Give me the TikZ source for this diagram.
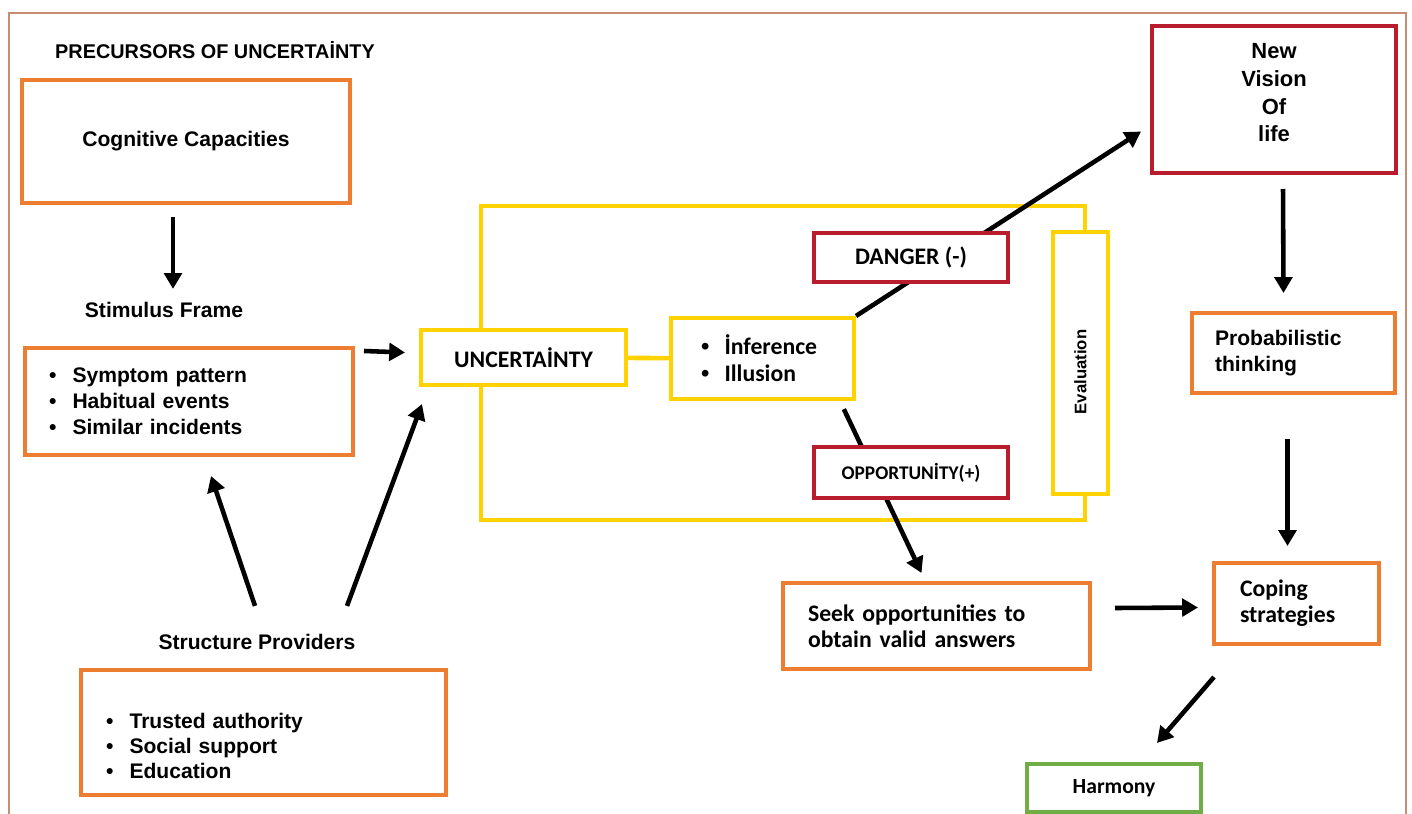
\documentclass[tikz,border=0pt]{standalone}
\usepackage{fontspec}
\usepackage{graphicx}
\setmainfont{Liberation Sans}
\newfontfamily\narrowfont{Carlito}
\usetikzlibrary{arrows.meta}
\usetikzlibrary{backgrounds}
\definecolor{box_orange}{RGB}{237, 125, 49}
\definecolor{box_yellow}{RGB}{255, 210, 0}
\definecolor{box_red}{RGB}{185, 28, 45}
\definecolor{box_green}{RGB}{112, 173, 71}
\definecolor{frame_brown}{RGB}{200, 140, 115}
\newcommand{\bul}[1]{\makebox[0.47cm][l]{\rmfamily\textbullet}#1}
\tikzset{
  plain_box/.style={draw, line width=2.3pt, fill=white, text=black, inner sep=0pt, align=center},
  orange_box/.style={plain_box, draw=box_orange},
  yellow_box/.style={plain_box, draw=box_yellow},
  red_box/.style={plain_box, draw=box_red},
  green_box/.style={plain_box, draw=box_green},
  bold_txt/.style={font=\fontsize{12}{14.8}\selectfont\bfseries},
  narrow_txt/.style={font=\narrowfont\fontsize{13.5}{15}\selectfont\bfseries},
  arr/.style={line width=2.6pt, -{Triangle[length=9pt,width=10pt]}}
}

\begin{document}
\begin{tikzpicture}[x=0.02cm, y=-0.02cm]
\useasboundingbox (0,0) rectangle (1412,814);
\draw[frame_brown, line width=1pt] (9,814) -- (9,13) -- (1406,13) -- (1406,814);
\node[font=\fontsize{11.3}{13}\selectfont\bfseries] (title) at (215,50) {PRECURSORS OF UNCERTAİNTY};
\node[orange_box, bold_txt, minimum width=6.56cm, minimum height=2.46cm, text depth=0.12cm] (cog) at (186,141.5) {Cognitive Capacities};
\node[bold_txt, inner sep=0pt] (stimlbl) at (164,310) {Stimulus Frame};
\node[orange_box, bold_txt, minimum height=2.14cm, text width=5.6cm, inner xsep=0.48cm, align=left] (sympt) at (189,401.5) {\bul{Symptom pattern}\\ \bul{Habitual events}\\ \bul{Similar incidents}};
\node[bold_txt, inner sep=0pt] (strlbl) at (257,642) {Structure Providers};
\node[orange_box, font=\fontsize{12}{14.2}\selectfont\bfseries, minimum height=2.5cm, text width=6.3cm, inner xsep=0.5cm, align=left] (struct) at (263.5,732.5) {\strut\\ \bul{Trusted authority}\\ \bul{Social support}\\ \bul{Education}};
\node[yellow_box, narrow_txt, minimum width=4.1cm, minimum height=1.1cm] (unc) at (523.5,357.5) {UNCERTAİNTY};
\node[yellow_box, font=\narrowfont\fontsize{13.5}{15.4}\selectfont\bfseries, minimum height=1.62cm, text width=2.46cm, inner xsep=0.6cm, align=left] (inf) at (762.5,358.5) {\bul{İnference}\\ \bul{Illusion}};
\node[red_box, narrow_txt, minimum width=3.88cm, minimum height=0.98cm] (danger) at (911,257.5) {DANGER (-)};
\node[red_box, font=\narrowfont\fontsize{11}{13}\selectfont\bfseries, minimum width=3.88cm, minimum height=1.02cm] (opp) at (911,472.5) {OPPORTUNİTY(+)};
\node[yellow_box, font=\fontsize{9.5}{11}\selectfont\bfseries, minimum width=1.1cm, minimum height=5.24cm] (eval) at (1080.5,363) {\rotatebox{90}{Evaluation\hspace*{0.36cm}}};
\node[red_box, font=\fontsize{12.5}{15.9}\selectfont\bfseries, minimum width=4.88cm, minimum height=2.94cm, text depth=0.28cm] (vision) at (1274,99.5) {New\\Vision\\Of\\life};
\node[orange_box, bold_txt, minimum height=1.6cm, text width=3.14cm, inner xsep=0.46cm, align=left] (prob) at (1293.5,353) {Probabilistic\\thinking};
\node[orange_box, narrow_txt, minimum height=1.62cm, text width=2.26cm, inner xsep=0.52cm, align=left] (coping) at (1296.5,603.5) {Coping\\strategies};
\node[orange_box, narrow_txt, minimum height=1.72cm, text width=5.14cm, inner xsep=0.5cm, align=left] (seek) at (936.5,626) {Seek opportunities to\\obtain valid answers};
\node[green_box, font=\narrowfont\fontsize{12.3}{14}\selectfont\bfseries, minimum width=3.48cm, minimum height=0.96cm] (harmony) at (1114,788) {Harmony};
% lines running behind the boxes
\begin{scope}[on background layer]
\draw[box_yellow, line width=2.3pt] (481,206) rectangle (1085,520);
\draw[arr] (inf.north east) -- ([shift={(-9,32)}]vision.west);
\draw[arr, shorten <=0.18cm] ([shift={(-16,0)}]inf.south east) -- ([shift={(-15,-8)}]seek.north);
\end{scope}
\draw[box_yellow, line width=2.6pt] (unc) -- (inf);
\draw[arr] ([shift={(-13,12)}]cog.south) -- ([shift={(9,-13)}]stimlbl.north);
\draw[arr] ([shift={(9,5)}]sympt.north east) -- ([shift={(-14,-5)}]unc.west);
\draw[arr] ([shift={(-2,-28)}]strlbl.north) -- ([shift={(22,19)}]sympt.south);
\draw[arr] ([shift={(90,-28)}]strlbl.north) -- ([shift={(3,17)}]unc.south west);
\draw[arr] ([shift={(9,14)}]vision.south) -- ([shift={(-10,-18)}]prob.north);
\draw[arr] ([shift={(-6,44)}]prob.south) -- ([shift={(-9,-15)}]coping.north);
\draw[arr] ([shift={(23,-18)}]seek.east) -- ([shift={(-14,4)}]coping.west);
\draw[arr] ([shift={(2,31)}]coping.south west) -- ([shift={(43,-19)}]harmony.north);
\end{tikzpicture}
\end{document}
